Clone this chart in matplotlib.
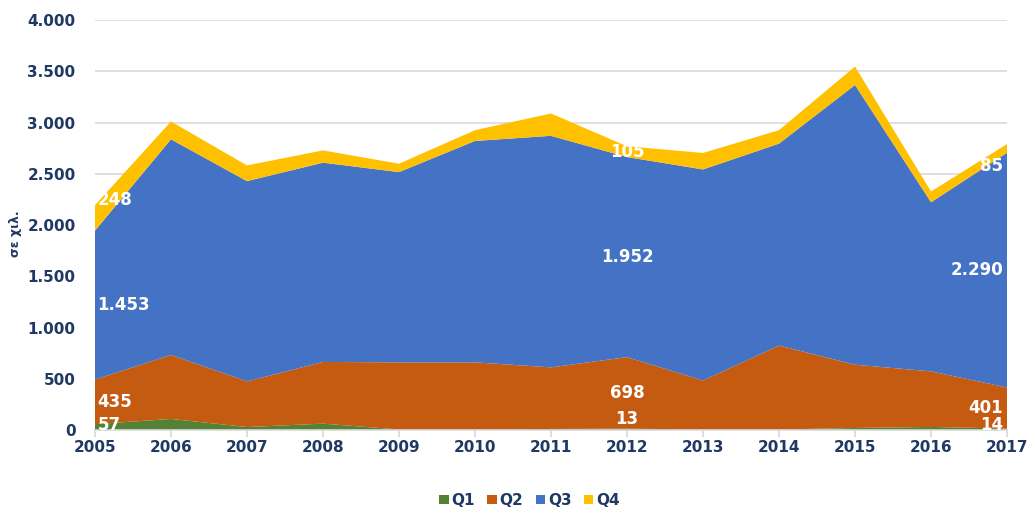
import matplotlib
matplotlib.use('Agg')
import matplotlib.pyplot as plt
import numpy as np

years = [2005, 2006, 2007, 2008, 2009, 2010, 2011, 2012, 2013, 2014, 2015, 2016, 2017]
q1 = [57, 108, 29, 62, 5, 5, 10, 13, 5, 5, 20, 30, 14]
q2 = [435, 624, 445, 602, 655, 655, 601, 698, 478, 819, 617, 542, 401]
q3 = [1453, 2104, 1954, 1944, 1856, 2160, 2259, 1952, 2059, 1970, 2729, 1650, 2290]
q4 = [248, 174, 153, 120, 82, 105, 218, 105, 161, 131, 180, 105, 85]
series_names = ['Q1', 'Q2', 'Q3', 'Q4']
colors = ['#548235', '#C55A11', '#4472C4', '#FFC000']
labelled_years = [2005, 2012, 2017]

navy = '#1F3864'

def fmt(v):
    return f'{v:,.0f}'.replace(',', '.')

fig = plt.figure(figsize=(10.28, 5.09), dpi=100)
ax = fig.add_axes([0.0924, 0.1552, 0.8872, 0.8055])

data = [q1, q2, q3, q4]
ax.stackplot(years, *data, colors=colors, labels=series_names, linewidth=0)

ax.set_xlim(2005, 2017)
ax.set_ylim(0, 4000)
ax.set_yticks(np.arange(0, 4001, 500))
ax.set_yticklabels([fmt(v) for v in np.arange(0, 4001, 500)])
ax.set_xticks(years)
ax.set_xticklabels([str(y) for y in years])
ax.grid(axis='y', color='#D9D9D9', linewidth=1.2)
ax.set_axisbelow(True)
for s in ['top', 'right', 'left']:
    ax.spines[s].set_visible(False)
ax.spines['bottom'].set_color('#D9D9D9')
ax.spines['bottom'].set_linewidth(1.2)
ax.tick_params(axis='y', length=0, pad=14, labelsize=11, labelcolor=navy)
ax.tick_params(axis='x', length=5, color='#D9D9D9', width=1.2, pad=2, labelsize=11, labelcolor=navy)
for lab in ax.get_xticklabels() + ax.get_yticklabels():
    lab.set_fontweight('bold')

ax.set_ylabel('σε χιλ.', fontsize=9, fontweight='bold', color=navy)
ax.yaxis.set_label_coords(-0.08, 0.48)

# data labels, white, inside the bands
cum = np.cumsum(np.array(data), axis=0)
q4_shift = {2005: 300, 2012: 50, 2017: -130}
for yr in labelled_years:
    i = years.index(yr)
    ha = 'left' if i == 0 else ('right' if i == len(years) - 1 else 'center')
    xoff = 0.03 if i == 0 else (-0.05 if i == len(years) - 1 else 0)
    for k in range(4):
        lo = cum[k - 1][i] if k > 0 else 0
        mid = (lo + cum[k][i]) / 2
        if k == 0:
            mid = max(mid, 110) if ha == 'center' else 45
        if k == 3:
            mid = cum[2][i] + q4_shift[yr]
        ax.text(yr + xoff, mid, fmt(data[k][i]), ha=ha, va='center', color='white',
                fontsize=12, fontweight='bold', clip_on=True)

leg = fig.legend(loc='lower center', bbox_to_anchor=(0.515, -0.025), ncol=4, frameon=False,
                 handlelength=0.6, handleheight=0.6, handletextpad=0.2, columnspacing=0.8,
                 prop={'weight': 'bold', 'size': 11})
for t in leg.get_texts():
    t.set_color(navy)

fig.savefig('out.png', dpi=100)
